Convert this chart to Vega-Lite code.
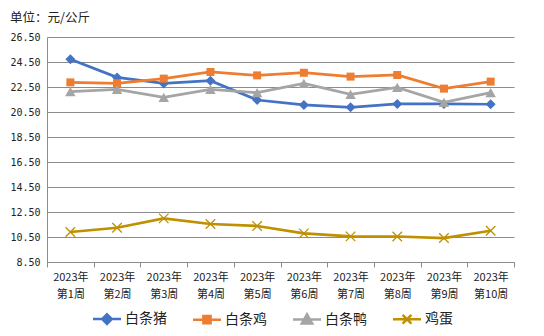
{
  "$schema": "https://vega.github.io/schema/vega-lite/v6.json",
  "width": 467,
  "height": 225,
  "autosize": {"type": "none"},
  "padding": {"left": 47, "top": 37, "right": 30, "bottom": 74},
  "background": "white",
  "title": {"text": "单位：元/公斤", "anchor": "start", "frame": "group", "dx": -37, "offset": 8, "font": "Noto Sans CJK SC", "fontSize": 12.5, "fontWeight": "normal", "color": "#222"},
  "data": {"values": [
    {"week": "2023年第1周", "series": "白条猪", "value": 24.72},
    {"week": "2023年第2周", "series": "白条猪", "value": 23.27},
    {"week": "2023年第3周", "series": "白条猪", "value": 22.79},
    {"week": "2023年第4周", "series": "白条猪", "value": 23.0},
    {"week": "2023年第5周", "series": "白条猪", "value": 21.46},
    {"week": "2023年第6周", "series": "白条猪", "value": 21.07},
    {"week": "2023年第7周", "series": "白条猪", "value": 20.88},
    {"week": "2023年第8周", "series": "白条猪", "value": 21.15},
    {"week": "2023年第9周", "series": "白条猪", "value": 21.15},
    {"week": "2023年第10周", "series": "白条猪", "value": 21.12},
    {"week": "2023年第1周", "series": "白条鸡", "value": 22.87},
    {"week": "2023年第2周", "series": "白条鸡", "value": 22.8},
    {"week": "2023年第3周", "series": "白条鸡", "value": 23.17},
    {"week": "2023年第4周", "series": "白条鸡", "value": 23.7},
    {"week": "2023年第5周", "series": "白条鸡", "value": 23.43},
    {"week": "2023年第6周", "series": "白条鸡", "value": 23.64},
    {"week": "2023年第7周", "series": "白条鸡", "value": 23.33},
    {"week": "2023年第8周", "series": "白条鸡", "value": 23.46},
    {"week": "2023年第9周", "series": "白条鸡", "value": 22.37},
    {"week": "2023年第10周", "series": "白条鸡", "value": 22.93},
    {"week": "2023年第1周", "series": "白条鸭", "value": 22.13},
    {"week": "2023年第2周", "series": "白条鸭", "value": 22.31},
    {"week": "2023年第3周", "series": "白条鸭", "value": 21.67},
    {"week": "2023年第4周", "series": "白条鸭", "value": 22.31},
    {"week": "2023年第5周", "series": "白条鸭", "value": 22.05},
    {"week": "2023年第6周", "series": "白条鸭", "value": 22.79},
    {"week": "2023年第7周", "series": "白条鸭", "value": 21.91},
    {"week": "2023年第8周", "series": "白条鸭", "value": 22.47},
    {"week": "2023年第9周", "series": "白条鸭", "value": 21.27},
    {"week": "2023年第10周", "series": "白条鸭", "value": 22.05},
    {"week": "2023年第1周", "series": "鸡蛋", "value": 10.9},
    {"week": "2023年第2周", "series": "鸡蛋", "value": 11.24},
    {"week": "2023年第3周", "series": "鸡蛋", "value": 11.99},
    {"week": "2023年第4周", "series": "鸡蛋", "value": 11.54},
    {"week": "2023年第5周", "series": "鸡蛋", "value": 11.38},
    {"week": "2023年第6周", "series": "鸡蛋", "value": 10.79},
    {"week": "2023年第7周", "series": "鸡蛋", "value": 10.55},
    {"week": "2023年第8周", "series": "鸡蛋", "value": 10.54},
    {"week": "2023年第9周", "series": "鸡蛋", "value": 10.42},
    {"week": "2023年第10周", "series": "鸡蛋", "value": 11.0}
  ]},
  "encoding": {
    "x": {"field": "week", "type": "ordinal", "sort": null, "bandPosition": 0.5,
      "scale": {"type": "band", "paddingInner": 0, "paddingOuter": 0},
      "axis": {"title": null, "labelAngle": 0, "tickBand": "extent", "tickSize": 5, "tickColor": "#8c8c8c", "domainColor": "#8c8c8c", "labelPadding": 4,
        "labelExpr": "[slice(datum.label,0,5), slice(datum.label,5)]", "labelFont": "Noto Sans CJK SC", "labelFontSize": 11, "labelLineHeight": 17, "labelColor": "#222", "grid": false}},
    "y": {"field": "value", "type": "quantitative",
      "scale": {"domain": [8.5, 26.5], "nice": false, "zero": false},
      "axis": {"title": null, "values": [8.5, 10.5, 12.5, 14.5, 16.5, 18.5, 20.5, 22.5, 24.5, 26.5], "format": ".2f", "ticks": false, "labelPadding": 7,
        "labelFont": "DejaVu Sans Mono", "labelFontSize": 10, "labelColor": "#222", "domainColor": "#8c8c8c", "gridColor": "#8c8c8c", "gridWidth": 1}}
  },
  "layer": [
    {"transform": [{"filter": "datum.series == '白条猪'"}], "mark": {"type": "line", "strokeWidth": 2.75, "color": "#4472C4"}},
    {"transform": [{"filter": "datum.series == '白条猪'"}],
      "mark": {"type": "point", "shape": "diamond", "filled": true, "opacity": 1, "size": 100, "color": "#4472C4"}},
    {"transform": [{"filter": "datum.series == '白条鸡'"}], "mark": {"type": "line", "strokeWidth": 2.75, "color": "#ED7D31"}},
    {"transform": [{"filter": "datum.series == '白条鸡'"}],
      "mark": {"type": "point", "shape": "square", "filled": true, "opacity": 1, "size": 64, "color": "#ED7D31"}},
    {"transform": [{"filter": "datum.series == '白条鸭'"}], "mark": {"type": "line", "strokeWidth": 2.75, "color": "#A5A5A5"}},
    {"transform": [{"filter": "datum.series == '白条鸭'"}],
      "mark": {"type": "point", "shape": "triangle-up", "filled": true, "opacity": 1, "size": 110, "color": "#A5A5A5"}},
    {"transform": [{"filter": "datum.series == '鸡蛋'"}], "mark": {"type": "line", "strokeWidth": 2.75, "color": "#BF9000"}},
    {"transform": [{"filter": "datum.series == '鸡蛋'"}],
      "mark": {"type": "point", "shape": "M-1,-1L1,1M-1,1L1,-1", "filled": false, "opacity": 1, "size": 90, "strokeWidth": 1.3, "color": "#BF9000"}},
    {"mark": {"type": "point", "filled": true, "opacity": 0},
      "encoding": {
        "color": {"field": "series", "type": "nominal",
          "scale": {"domain": ["白条猪", "白条鸡", "白条鸭", "鸡蛋"], "range": ["#4472C4", "#ED7D31", "#A5A5A5", "#BF9000"]},
          "legend": {"title": null, "orient": "none", "direction": "horizontal", "legendX": 53, "legendY": 275, "padding": 0,
            "symbolSize": 64, "symbolStrokeWidth": 2.5, "symbolOpacity": 1, "labelFont": "Noto Sans CJK SC", "labelFontSize": 14, "labelColor": "#222", "labelOffset": 11, "columnPadding": 21,
            "encode": {"symbols": {"update": {"stroke": {"scale": "color", "field": "value"}, "opacity": {"value": 1}}}}}},
        "shape": {"field": "series", "type": "nominal",
          "scale": {"domain": ["白条猪", "白条鸡", "白条鸭", "鸡蛋"], "range": ["M-3.5,0H3.5M0,-1.2L1.2,0L0,1.2L-1.2,0Z", "M-3.5,0H3.5M-0.9,-0.9H0.9V0.9H-0.9Z", "M-3.5,0H3.5M0,-1.3L1.3,1L-1.3,1Z", "M-3.5,0H3.5M-1.1,-1.1L1.1,1.1M-1.1,1.1L1.1,-1.1"]},
          "legend": {"title": null, "orient": "none", "direction": "horizontal", "legendX": 53, "legendY": 275, "padding": 0,
            "symbolSize": 64, "symbolStrokeWidth": 2.5, "symbolOpacity": 1, "labelFont": "Noto Sans CJK SC", "labelFontSize": 14, "labelColor": "#222", "labelOffset": 11, "columnPadding": 21}}
      }}
  ],
  "config": {"view": {"stroke": null}, "font": "Noto Sans CJK SC"}
}
